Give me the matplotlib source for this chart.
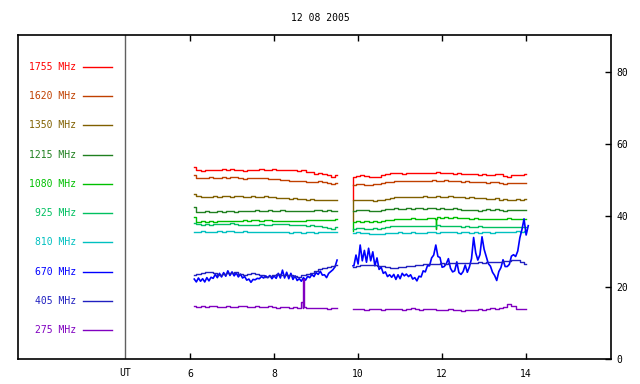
import numpy as np
import matplotlib
matplotlib.use("Agg")
import matplotlib.pyplot as plt

plt.rcParams['font.family'] = ['DejaVu Sans Mono']

title = "12 08 2005"
freqs = ["1755", "1620", "1350", "1215", "1080", "925", "810", "670", "405", "275"]
colors = ["#ff0000", "#c04000", "#806000", "#208020", "#00c000",
          "#00c060", "#00c0c0", "#0000ff", "#2020c0", "#8000c0"]
xticks = [6, 8, 10, 12, 14]
yticks = [0, 20, 40, 60, 80]

# time axes (UT hours)
t1 = np.round(np.arange(6.1, 9.51, 0.1), 2)      # 35 samples
t2 = np.round(np.arange(9.9, 14.01, 0.1), 2)     # 42 samples
t1f = np.round(np.arange(6.1, 9.51, 0.05), 2)    # fine, 69 samples
t2f = np.round(np.arange(9.9, 14.06, 0.05), 2)   # fine, 84 samples
seg2_start = 9.88

f1755_a = [53.5, 52.6, 52.5, 52.7, 52.6, 52.8, 52.7, 52.9, 52.8, 53.0, 52.8, 52.6, 52.5, 52.7, 52.6, 52.8, 52.9, 52.7,
           52.8, 52.9, 52.7, 52.6, 52.8, 52.7, 52.6, 52.5, 52.6, 52.3, 52.1, 51.7, 51.9, 51.6, 51.3, 50.9, 51.3]
f1755_b = [50.8, 51.1, 51.3, 51.0, 50.9, 50.7, 50.9, 51.3, 51.6, 51.9, 52.0, 51.9, 51.7, 51.8, 52.0, 51.9, 52.0, 51.8,
           51.9, 52.0, 52.1, 51.9, 52.0, 51.8, 51.7, 51.9, 51.6, 51.7, 51.5, 51.6, 51.4, 51.5, 51.3, 51.2, 51.5, 51.7,
           51.1, 50.9, 51.2, 51.3, 51.4, 51.5]
f1620_a = [51.2, 50.5, 50.4, 50.6, 50.7, 50.5, 50.6, 50.7, 50.6, 50.8, 50.7, 50.5, 50.3, 50.4, 50.5, 50.4, 50.6, 50.5,
           50.3, 50.1, 50.2, 50.0, 49.9, 49.8, 49.7, 49.8, 49.6, 49.5, 49.4, 49.3, 49.6, 49.5, 49.2, 48.9, 49.1]
f1620_b = [48.5, 48.8, 48.9, 48.6, 48.5, 48.7, 48.9, 49.2, 49.4, 49.5, 49.6, 49.7, 49.6, 49.7, 49.6, 49.8, 49.7, 49.6,
           49.8, 49.9, 49.8, 49.7, 49.9, 49.8, 49.6, 49.7, 49.5, 49.6, 49.4, 49.5, 49.3, 49.4, 49.2, 49.3, 49.5, 49.1,
           48.9, 49.0, 49.1, 49.2, 49.1, 49.2]
f1350_a = [46.1, 45.4, 45.2, 45.3, 45.2, 45.4, 45.3, 45.5, 45.4, 45.3, 45.6, 45.4, 45.2, 45.3, 45.4, 45.2, 45.3, 45.4,
           45.2, 45.3, 45.0, 44.8, 44.9, 44.7, 44.8, 44.6, 44.7, 44.5, 44.6, 44.4, 44.5, 44.3, 44.4, 44.3, 44.5]
f1350_b = [44.3, 44.4, 44.5, 44.3, 44.4, 44.2, 44.3, 44.4, 44.6, 45.0, 45.2, 45.1, 45.3, 45.2, 45.3, 45.1, 45.2, 45.4,
           45.2, 45.3, 45.6, 45.3, 45.2, 45.4, 45.3, 45.2, 45.1, 45.0, 45.1, 44.9, 44.8, 44.9, 44.7, 44.6, 44.8, 44.5,
           44.6, 44.4, 44.5, 44.6, 44.5, 44.6]
f1215_a = [42.4, 40.9, 41.0, 41.2, 41.1, 41.0, 41.2, 41.1, 41.3, 41.2, 41.1, 41.3, 41.4, 41.2, 41.3, 41.5, 41.4, 41.3,
           41.5, 41.4, 41.3, 41.5, 41.4, 41.3, 41.4, 41.2, 41.3, 41.4, 41.3, 41.5, 41.7, 41.4, 41.5, 41.3, 41.4]
f1215_b = [41.4, 41.5, 41.6, 41.5, 41.3, 41.2, 41.4, 41.7, 41.8, 41.9, 42.0, 41.9, 41.8, 42.0, 41.9, 42.1, 42.0, 41.9,
           42.1, 42.0, 41.9, 42.0, 41.8, 41.9, 42.0, 41.8, 41.7, 41.6, 41.5, 41.6, 41.4, 41.5, 41.8, 41.7, 41.9, 41.6,
           41.4, 41.5, 41.6, 41.7, 41.6, 41.7]
f1080_a = [39.6, 38.3, 38.5, 38.2, 38.4, 38.3, 38.5, 38.4, 38.6, 38.5, 38.4, 38.6, 38.7, 38.5, 38.8, 38.7, 38.6, 38.8,
           38.7, 38.5, 38.6, 38.4, 38.5, 38.6, 38.4, 38.5, 38.6, 38.7, 38.8, 38.7, 38.9, 38.8, 38.9, 38.8, 39.0]
f1080_b = [38.2, 38.4, 38.3, 38.5, 38.3, 38.4, 38.3, 38.6, 38.8, 38.9, 39.1, 39.2, 39.1, 39.2, 39.3, 39.2, 39.1, 39.2,
           39.3, 39.4, 39.5, 39.4, 39.5, 39.4, 39.5, 39.3, 39.4, 39.3, 39.2, 39.3, 39.1, 39.2, 39.0, 39.1, 39.2, 39.1,
           39.2, 39.3, 39.2, 39.2, 39.1, 39.2]
f925_a = [37.9, 37.6, 37.4, 37.6, 37.5, 37.7, 37.6, 37.8, 37.7, 37.9, 37.7, 37.5, 37.4, 37.3, 37.5, 37.4, 37.6, 37.5,
          37.4, 37.6, 37.7, 37.6, 37.8, 37.5, 37.4, 37.3, 37.4, 37.2, 37.3, 37.1, 37.0, 36.8, 36.6, 36.4, 36.8]
f925_b = [36.3, 36.5, 36.6, 36.4, 36.3, 36.5, 36.2, 36.6, 36.8, 37.0, 37.1, 37.0, 37.2, 37.1, 37.0, 37.2, 37.1, 37.0,
          37.2, 37.1, 37.3, 37.2, 37.1, 37.0, 37.2, 37.1, 36.9, 37.0, 36.8, 36.9, 37.0, 36.8, 36.9, 36.7, 36.8, 36.9,
          36.7, 36.8, 36.9, 36.8, 36.9, 36.8]
f810_a = [35.5, 35.4, 35.6, 35.5, 35.4, 35.5, 35.6, 35.5, 35.7, 35.6, 35.5, 35.4, 35.6, 35.5, 35.4, 35.5, 35.3, 35.4,
          35.5, 35.3, 35.4, 35.5, 35.3, 35.2, 35.4, 35.3, 35.2, 35.3, 35.4, 35.2, 35.3, 35.5, 35.3, 35.4, 35.3]
f810_b = [35.2, 35.3, 35.1, 35.2, 35.0, 34.9, 35.0, 34.8, 35.1, 35.2, 35.1, 35.3, 35.2, 35.1, 35.3, 35.2, 35.1, 35.2,
          35.4, 35.3, 35.2, 35.3, 35.5, 35.4, 35.3, 35.2, 35.3, 35.4, 35.2, 35.3, 35.2, 35.4, 35.3, 35.2, 35.3, 35.4,
          35.5, 35.4, 35.5, 35.6, 35.5, 35.6]
f670_a = [22.3, 21.5, 22.6, 21.7, 22.4, 21.5, 22.7, 21.8, 22.8, 22.5, 23.6, 22.7, 23.9, 22.9, 24.1, 23.1, 24.6, 23.3,
          24.3, 23.2, 24.0, 22.9, 23.7, 22.6, 23.0, 22.0, 22.3, 21.4, 22.2, 22.1, 22.5, 22.4, 23.0, 22.6, 23.2, 22.7,
          23.3, 22.4, 23.2, 22.5, 23.9, 22.6, 24.8, 22.6, 24.2, 22.4, 23.9, 22.2, 23.2, 21.9, 22.4, 21.7, 22.7, 22.0,
          23.1, 22.7, 23.6, 23.0, 24.1, 23.6, 24.5, 23.4, 23.5, 22.7, 23.9, 24.4, 24.9, 25.7, 27.6]
f670_b = [26.0, 29.0, 26.5, 31.8, 27.4, 30.3, 27.0, 30.9, 27.4, 29.9, 26.0, 28.2, 25.0, 25.6, 23.9, 24.3, 23.0, 23.5,
          22.8, 23.6, 22.2, 23.5, 22.4, 23.9, 23.2, 23.7, 23.0, 23.5, 22.3, 22.7, 21.8, 23.1, 22.9, 24.6, 24.3, 26.0,
          26.0, 28.2, 29.0, 31.8, 28.6, 28.3, 25.6, 25.8, 26.6, 28.0, 25.3, 24.3, 24.6, 27.1, 24.1, 23.6, 24.4, 26.2,
          24.2, 25.7, 28.0, 33.9, 29.6, 27.6, 29.1, 34.1, 30.6, 28.6, 26.6, 25.9, 24.2, 23.3, 21.9, 24.4, 25.5, 27.7,
          25.8, 25.8, 26.4, 28.7, 29.1, 28.6, 30.1, 33.8, 36.1, 39.1, 34.6, 37.2]
f405_a = [23.4, 23.8, 24.0, 24.2, 24.4, 24.0, 23.5, 23.8, 24.1, 23.9, 24.2, 23.8, 23.5, 23.7, 23.9, 23.6, 23.3, 23.0,
          23.2, 23.5, 23.6, 23.4, 23.5, 23.3, 23.2, 23.0, 23.3, 23.6, 24.0, 24.5, 25.0, 25.3, 25.6, 25.9, 26.2]
f405_b = [25.7, 25.9, 26.1, 26.2, 26.3, 26.1, 26.0, 25.9, 25.7, 25.5, 25.4, 25.6, 25.8, 25.9, 26.0, 26.2, 26.3, 26.4,
          26.6, 26.5, 26.6, 26.7, 26.6, 26.7, 26.8, 26.7, 26.8, 26.9, 26.8, 26.9, 27.0, 26.9, 27.0, 27.1, 27.0, 27.2,
          27.3, 27.4, 27.6, 27.5, 27.2, 26.5]
f275_a = [14.9, 14.6, 14.8, 14.5, 14.7, 14.9, 14.6, 14.5, 14.8, 14.6, 14.4, 14.7, 14.9, 14.6, 14.5, 14.8, 14.6, 14.4,
          14.7, 14.5, 14.3, 14.5, 14.4, 14.3, 14.5, 14.3, 14.2, 14.3, 14.2, 14.1, 14.2, 14.1, 14.0, 14.1, 14.1]
f275_b = [13.9, 14.0, 13.9, 13.8, 13.9, 14.0, 13.9, 13.8, 13.9, 13.9, 14.0, 13.9, 13.8, 13.9, 14.1, 13.9, 13.8, 13.9,
          14.0, 13.9, 13.8, 13.7, 13.8, 13.9, 13.8, 13.7, 13.3, 13.6, 13.8, 13.7, 13.9, 13.8, 14.0, 14.1, 14.0, 14.2,
          14.5, 15.4, 14.8, 14.0, 13.9, 14.0]

# isolated spikes
spike275_t = [8.69, 8.70, 8.71]
spike275_v = [16.0, 22.3, 14.5]
spike1080_t = [11.84, 11.85, 11.86]
spike1080_v = [39.2, 36.4, 39.2]

# first sample of the second block (start artefact)
start_b = [44.5, 48.5, 38.6, 41.4, 35.8, 36.3, 35.2, 26.0, 25.7, 13.9]

series_a = [f1755_a, f1620_a, f1350_a, f1215_a, f1080_a, f925_a, f810_a, f670_a, f405_a, f275_a]
series_b = [f1755_b, f1620_b, f1350_b, f1215_b, f1080_b, f925_b, f810_b, f670_b, f405_b, f275_b]


def merge(t, v, ts, vs):
    tt = np.concatenate([np.asarray(t, float), np.asarray(ts, float)])
    vv = np.concatenate([np.asarray(v, float), np.asarray(vs, float)])
    o = np.argsort(tt, kind="stable")
    return tt[o], vv[o]


fig = plt.figure(figsize=(6.4, 3.84), dpi=100)
ax = fig.add_axes([18 / 640, 25 / 384, 593 / 640, 324 / 384])
ax.set_xlim(1.905, 16.02)
ax.set_ylim(0, 90.4)

for i, (fq, c) in enumerate(zip(freqs, colors)):
    va, vb = series_a[i], series_b[i]
    if fq == "670":
        ta, tb = t1f, t2f
        ds = 'default'
        lw = 1.2
    else:
        ta, tb = t1, t2
        ds = 'steps-mid'
        lw = 1.0
    n = min(len(ta), len(va))
    ta_, va_ = ta[:n], np.asarray(va[:n], float)
    m = min(len(tb), len(vb))
    tb_, vb_ = tb[:m], np.asarray(vb[:m], float)
    if fq == "275":
        ta_, va_ = merge(ta_, va_, spike275_t, spike275_v)
    if fq == "1080":
        tb_, vb_ = merge(tb_, vb_, spike1080_t, spike1080_v)
    tb_ = np.concatenate([[seg2_start], tb_])
    vb_ = np.concatenate([[start_b[i]], vb_])
    ax.plot(ta_, va_, color=c, lw=lw, drawstyle=ds)
    ax.plot(tb_, vb_, color=c, lw=lw, drawstyle=ds)

    # legend entry
    ly = 81.45 - i * 8.15
    ax.text(3.29, ly, f"{fq} MHz", color=c, fontsize=7, ha='right', va='center')
    ax.plot([3.45, 4.14], [ly, ly], color=c, lw=1.0)

# UT separator
ax.axvline(4.45, color="#606060", lw=1.0)
ax.text(4.45, -2.6, "UT", fontsize=7, ha='center', va='top', color='black')

ax.set_xticks(xticks)
ax.set_xticklabels([str(x) for x in xticks])
ax.set_yticks(yticks)
ax.tick_params(axis='x', direction='in', top=True, bottom=True, length=4, width=1,
               labelsize=7, pad=7)
ax.tick_params(axis='y', direction='in', left=False, right=True, labelleft=False,
               labelright=True, length=4, width=1, labelsize=7, pad=4)
for s in ax.spines.values():
    s.set_linewidth(1.2)

fig.text(320 / 640, 1 - 18 / 384, title, fontsize=7, ha='center', va='center')

fig.savefig("out.png", dpi=100)
